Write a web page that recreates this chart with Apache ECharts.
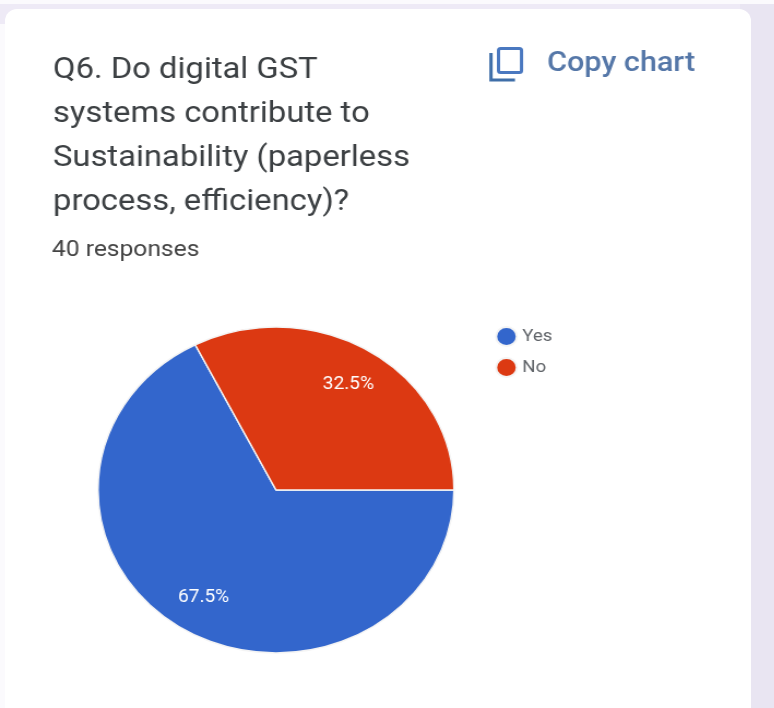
<!DOCTYPE html>
<html>
<head>
<meta charset="utf-8">
<script src="https://cdn.jsdelivr.net/npm/echarts@6/dist/echarts.min.js"></script>
<style>
  html, body { margin: 0; padding: 0; width: 774px; height: 708px; overflow: hidden; background: #fbfafd; }
  #band { position: absolute; left: 0; top: 4px; width: 774px; height: 20px; background: #eeeaf6; }
  #strip { position: absolute; left: 740px; top: 4px; width: 34px; height: 704px; background: #e9e5f2; }
  #card { position: absolute; left: 5px; top: 9px; width: 746px; height: 720px; background: #fff; border-radius: 12px; }
  /* The drawing is laid out in narrower units and widened, which gives the oval pie. */
  #chart { position: absolute; left: 0; top: 0; width: 709px; height: 708px; transform-origin: 0 0; transform: scaleX(1.092); }
</style>
</head>
<body>
<div id="band"></div>
<div id="strip"></div>
<div id="card"></div>
<div id="chart"></div>
<script>
const stretch = 1.092;
const categories = ['Yes', 'No'];
const responses = [67.5, 32.5];
const sliceColors = ['#3366cc', '#dc3912'];
const questionLines = ['Q6. Do digital GST', 'systems contribute to', 'Sustainability (paperless', 'process, efficiency)?'];
const responseNote = '40 responses';
const copyLabel = 'Copy chart';

const X = px => px / stretch;
const pieRadius = 163;
const total = responses.reduce((a, b) => a + b, 0);

// Angle, clockwise from 3 o'clock, of the middle of a slice.
function midAngle(index) {
  const before = responses.slice(0, index).reduce((a, b) => a + b, 0);
  return (before + responses[index] / 2) / total * 2 * Math.PI;
}

const chart = echarts.init(document.getElementById('chart'));
chart.setOption({
  animation: false,
  textStyle: { fontFamily: 'Roboto' },
  title: {
    text: questionLines.join('\n'),
    left: X(53),
    top: 48,
    padding: 0,
    textStyle: { fontFamily: 'Roboto', fontSize: 30, fontWeight: 400, lineHeight: 44, color: '#3c4043' }
  },
  legend: {
    orient: 'vertical',
    left: X(495),
    top: 326,
    padding: 0,
    icon: 'circle',
    itemWidth: 19,
    itemHeight: 19,
    itemGap: 10,
    data: categories,
    textStyle: { fontFamily: 'Roboto', fontSize: 17, color: '#5f6368' }
  },
  graphic: [
    { type: 'text', left: X(52), top: 239, style: { text: responseNote, font: '400 22.5px Roboto', fill: '#444' } },
    { type: 'text', left: X(547), top: 50, style: { text: copyLabel, font: '500 28px Roboto', fill: '#5577a8' } },
    { type: 'rect', shape: { x: X(498.5), y: 48.5, width: X(23), height: 24, r: 2 },
      style: { fill: 'none', stroke: '#4a78c0', lineWidth: 3 } },
    { type: 'polyline', shape: { points: [[X(491), 53], [X(491), 80], [X(515), 80]] },
      style: { fill: 'none', stroke: '#3f6ea8', lineWidth: 3 } }
  ],
  series: [{
    type: 'pie',
    center: [X(276), 490],
    radius: pieRadius,
    startAngle: 0,
    clockwise: true,
    data: categories.map((name, i) => ({ name, value: responses[i], itemStyle: { color: sliceColors[i] } })),
    itemStyle: { borderColor: '#f4f4f4', borderWidth: 1.5 },
    label: { position: 'inside', formatter: p => p.value.toFixed(1) + '%', color: '#fff', fontFamily: 'Roboto', fontSize: 17.5 },
    labelLine: { show: false },
    emphasis: { disabled: true },
    labelLayout: p => {
      const a = midAngle(p.dataIndex);
      const shift = 0.26 * pieRadius;
      return { dx: Math.cos(a) * shift, dy: Math.sin(a) * shift + (p.dataIndex === 1 ? 3 : -1) };
    }
  }]
});
</script>
</body>
</html>
